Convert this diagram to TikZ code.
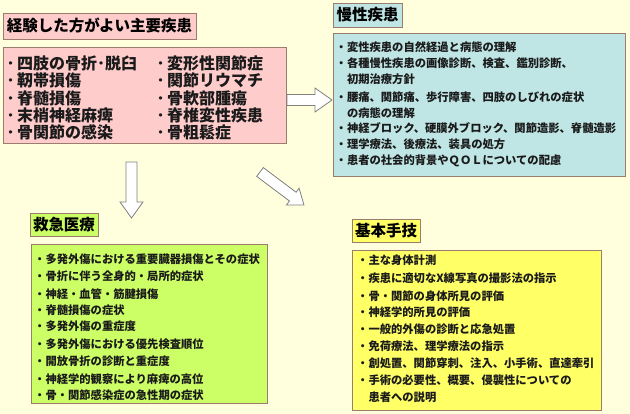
\documentclass[tikz,border=0pt]{standalone}
\usepackage{fontspec}
\newfontfamily\jp{Noto Sans CJK JP}
\usetikzlibrary{positioning}
\definecolor{bgc}{HTML}{FFFFDD}
\definecolor{pinkc}{HTML}{FFCCCC}
\definecolor{tealc}{HTML}{BFE5E5}
\definecolor{greenc}{HTML}{CCFF66}
\definecolor{yelc}{HTML}{FFFF66}
\definecolor{bordc}{HTML}{9C7C6C}
\definecolor{arrowc}{HTML}{808080}
\definecolor{txtc}{HTML}{1A1A1A}
\newcommand\myblk[6]{%
  \draw[blk, shift={#1}, rotate=#2] (0,-#4) -- (#3-#6,-#4) -- (#3-#6,-#5) -- (#3,0) -- (#3-#6,#5) -- (#3-#6,#4) -- (0,#4) -- cycle;}
\newcommand\bdot{･\hspace{2.5pt}}
\begin{document}
\begin{tikzpicture}[x=1pt,y=-1pt,
  box/.style={draw=bordc, line width=0.9pt, inner sep=0pt, anchor=north west},
  ttl/.style={draw=bordc, line width=0.9pt, inner sep=0pt, font=\jp\bfseries\fontsize{15.5}{16}\selectfont, text=black},
  big/.style={anchor=west, inner sep=0pt, font=\jp\bfseries\fontsize{16}{17}\selectfont, text=txtc, text height=14.1pt, text depth=1.9pt},
  small/.style={anchor=west, inner sep=0pt, font=\jp\bfseries\fontsize{11.3}{12}\selectfont, text=txtc, text height=9.9pt, text depth=1.4pt},
  blk/.style={fill=white, draw=arrowc, line width=0.8pt, line join=miter}]
\fill[bgc] (0,0) rectangle (630,414);
\useasboundingbox (0,0) rectangle (630,414);

% box 1
\node[box, fill=pinkc, minimum width=283pt, minimum height=96pt] (b1) at (3,47) {};
\node[ttl, fill=pinkc, minimum width=193pt, minimum height=26pt] (t1) at (99.5,26) {経験した方がよい主要疾患};
\foreach \t/\yy [count=\i] in {{\bdot 四肢の骨折･脱臼}/63,{\bdot 靭帯損傷}/80,{\bdot 脊髄損傷}/98,{\bdot 末梢神経麻痺}/115,{\bdot 骨関節の感染}/132}
  \node[big] (l\i) at (6.5,\yy) {\t};
\foreach \t/\yy [count=\i] in {{\bdot 変形性関節症}/63,{\bdot 関節リウマチ}/80,{\bdot 骨軟部腫瘍}/98,{\bdot 脊椎変性疾患}/115,{\bdot 骨粗鬆症}/132}
  \node[big] (r\i) at (156.5,\yy) {\t};

% box 2
\node[box, fill=tealc, minimum width=292pt, minimum height=143pt] (b2) at (333,33) {};
\node[ttl, fill=tealc, minimum width=69pt, minimum height=24pt] (t2) at (367.5,15) {慢性疾患};
\foreach \t/\yy [count=\i] in {{・変性疾患の自然経過と病態の理解}/47,{・各種慢性疾患の画像診断、検査、鑑別診断、}/63,{\phantom{・}初期治療方針}/79,{・腰痛、関節痛、歩行障害、四肢のしびれの症状}/97.7,{\phantom{・}の病態の理解}/113.3,{・神経ブロック、硬膜外ブロック、関節造影、脊髄造影}/128.3,{・理学療法、後療法、装具の処方}/144,{・患者の社会的背景やＱＯＬについての配慮}/160}
  \node[small] (c\i) at (335.5,\yy) {\t};

% box 3
\node[box, fill=greenc, minimum width=236pt, minimum height=159pt] (b3) at (31,244) {};
\node[ttl, fill=greenc, minimum width=68pt, minimum height=23pt] (t3) at (64,224.5) {救急医療};
\foreach \t/\yy [count=\i] in {{・多発外傷における重要臓器損傷とその症状}/259,{・骨折に伴う全身的・局所的症状}/276.7,{・神経・血管・筋腱損傷}/294,{・脊髄損傷の症状}/310.7,{・多発外傷の重症度}/326.7,{・多発外傷における優先検査順位}/344,{・開放骨折の診断と重症度}/361.7,{・神経学的観察により麻痺の高位}/379,{・骨・関節感染症の急性期の症状}/395}
  \node[small] (e\i) at (34,\yy) {\t};

% box 4
\node[box, fill=yelc, minimum width=249pt, minimum height=160pt] (b4) at (352,250) {};
\node[ttl, fill=yelc, minimum width=68pt, minimum height=23pt] (t4) at (386,230.5) {基本手技};
\foreach \t/\yy [count=\i] in {{・主な身体計測}/260.7,{・疾患に適切なX線写真の撮影法の指示}/278.7,{・骨・関節の身体所見の評価}/296,{・神経学的所見の評価}/312.7,{・一般的外傷の診断と応急処置}/329.3,{・免荷療法、理学療法の指示}/346,{・創処置、関節穿刺、注入、小手術、直達牽引}/363.3,{・手術の必要性、概要、侵襲性についての}/380.7,{\phantom{・}患者への説明}/397.3}
  \node[small] (k\i) at (357,\yy) {\t};

% block arrows
\coordinate (a1) at (287,100);
\coordinate (a2) at (131.5,162);
\coordinate (a3) at (260,172);
\myblk{(a1)}{0}{45}{5.5}{12}{17}
\myblk{(a2)}{-90}{56}{5.5}{11.5}{16}
\myblk{(a3)}{-36.9}{55}{5.5}{10.5}{14}
\end{tikzpicture}
\end{document}
